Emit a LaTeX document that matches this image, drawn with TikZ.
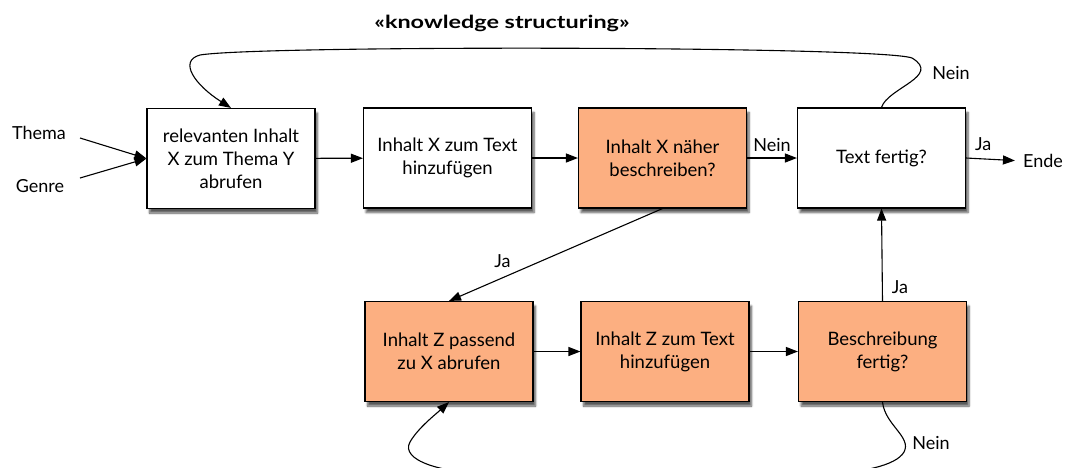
\documentclass[tikz,border=0pt]{standalone}
\usepackage{fontspec}
\usepackage{graphicx}
\setmainfont{Lato}
\usetikzlibrary{arrows.meta,shadows.blur,calc}
\definecolor{boxorange}{RGB}{252,175,129}
\begin{document}
\begin{tikzpicture}[x=1pt,y=-1pt,
  box/.style={draw, line width=1.1pt, fill=white, minimum width=168pt, minimum height=100pt,
    align=center, inner sep=2pt, font=\fontsize{18.5}{23}\selectfont,
    blur shadow={shadow xshift=2.5pt, shadow yshift=-4.5pt, shadow blur steps=6, shadow opacity=65}},
  obox/.style={box, fill=boxorange},
  lbl/.style={font=\fontsize{18}{20}\selectfont, inner sep=0pt},
  conn/.style={line width=1.1pt, -{Triangle[length=12pt,width=9pt]}},
  plain/.style={line width=1.1pt}]
\useasboundingbox (0,0) rectangle (1066,467);
\clip (0,0) rectangle (1066,467);
\node[font=\fontsize{18}{20}\selectfont\bfseries, inner sep=0pt] (title) at (502,23) {\scalebox{1.3}[1]{«knowledge structuring»}};

\node[box]  (B1) at (231,158.5) {relevanten Inhalt\\X zum Thema Y\\abrufen};
\node[box]  (B2) at (447.5,158) {Inhalt X zum Text\\hinzufügen};
\node[obox] (B3) at (662.5,158) {Inhalt X näher\\beschreiben?};
\node[box]  (B4) at (881.5,158) {Text fertig?};
\node[obox] (B5) at (449,351.5) {Inhalt Z passend\\zu X abrufen};
\node[obox] (B6) at (665,351.5) {Inhalt Z zum Text\\hinzufügen};
\node[obox] (B7) at (882.5,351.5) {Beschreibung\\fertig?};

\node[lbl] (thema) at (39,133) {Thema};
\node[lbl] (genre) at (40,186) {Genre};
\node[lbl] (ende) at (1043,161) {Ende};
\coordinate (tstart) at (80,138);
\coordinate (gstart) at (80,178);

\draw[conn] (tstart) -- (B1.west);
\draw[conn] (gstart) -- (B1.west);
\draw[conn] (B1) -- (B2);
\draw[conn] (B2) -- (B3);
\draw[conn] (B3) -- node[lbl, above=6pt] {Nein} (B4);
\draw[conn, shorten >=8pt] (B4.east) -- node[lbl, above=8pt, pos=0.3] {Ja} (ende.west);
\draw[conn] (B3.south) -- node[lbl, pos=0.75, above=10pt] {Ja} (B5.north);
\draw[conn] (B5) -- (B6);
\draw[conn] (B6) -- (B7);
\draw[conn] (B7.north) -- (B4.south);
\node[lbl] (ja2) at (900,287) {Ja};

\draw[conn] (B4.north) .. controls (887.5,88) and (942,76) .. (912,58)
  .. controls (880,46) and (260,45) .. (200,55)
  .. controls (178,61) and (195,85) .. (B1.north);
\node[lbl] (nein1) at (951,73) {Nein};

\draw[conn] (B7.south) .. controls (885,425) and (912,437) .. (904,452)
  .. controls (896,466) and (860,473) .. (820,474) -- (500,474)
  .. controls (440,474) and (400,460) .. (410,442)
  .. controls (418,428) and (436,414) .. (B5.south);
\node[lbl] (nein2) at (931,443) {Nein};
\end{tikzpicture}
\end{document}
